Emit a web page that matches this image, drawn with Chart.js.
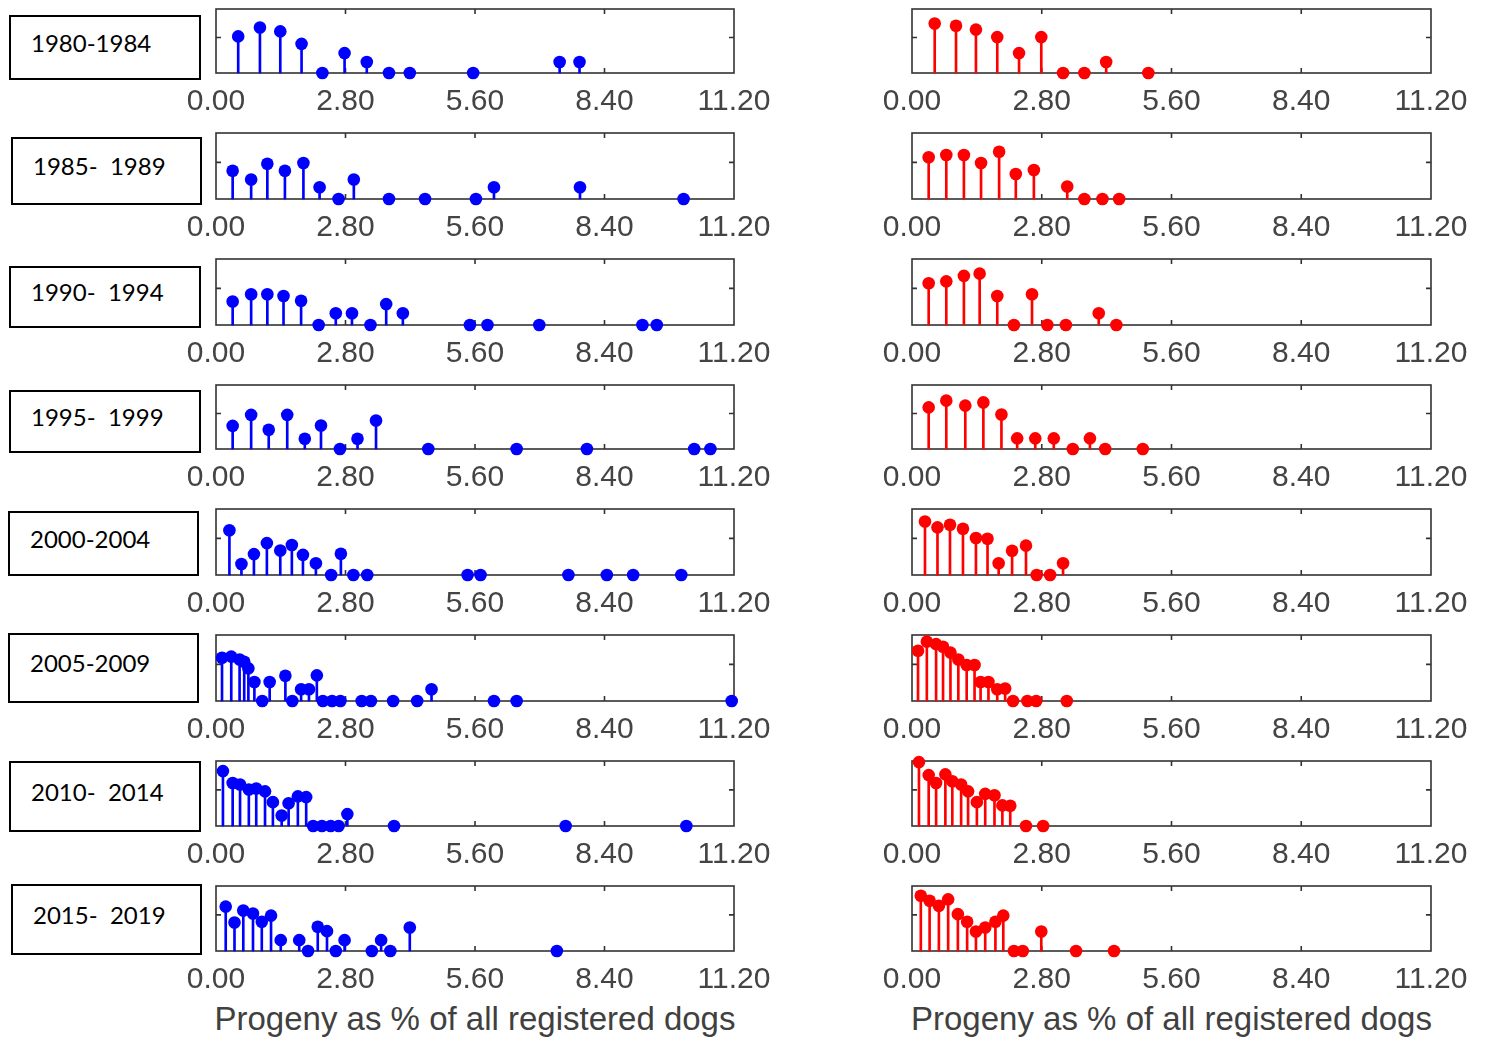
<!DOCTYPE html>
<html>
<head>
<meta charset="utf-8">
<script src="https://cdn.jsdelivr.net/npm/chart.js@4.4.0/dist/chart.umd.min.js"></script>
<style>
  body { margin: 0; background: #fff; width: 1485px; height: 1039px; position: relative; overflow: hidden; }
  .box { position: absolute; border: 2px solid #000; box-sizing: border-box; }
  .box span { position: absolute; font-family: Lato, "Open Sans", sans-serif; font-size: 24px; color: #000; white-space: pre; }
  .wrap { position: absolute; }
  .xlabel { position: absolute; width: 600px; text-align: center; font-family: "Liberation Sans", Arial, sans-serif; font-size: 33px; color: #404040; }
</style>
</head>
<body>
<script>
/* periods and axis */
const periods = ['1980-1984', '1985-  1989', '1990-  1994', '1995-  1999', '2000-2004', '2005-2009', '2010-  2014', '2015-  2019'];
const xTicks = [0, 2.8, 5.6, 8.4, 11.2];
const xTitle = 'Progeny as % of all registered dogs';

/* left (blue) panels */
const blueX80 = [0.48, 0.95, 1.39, 1.85, 2.30, 2.78, 3.26, 3.74, 4.19, 5.56, 7.43, 7.86];
const blueY80 = [1.03, 1.28, 1.17, 0.82, 0, 0.56, 0.31, 0, 0, 0, 0.31, 0.31];
const blueX85 = [0.36, 0.76, 1.11, 1.49, 1.89, 2.24, 2.65, 2.98, 3.74, 4.52, 5.62, 6.01, 7.87, 10.11];
const blueY85 = [0.77, 0.53, 0.96, 0.77, 0.98, 0.32, 0, 0.53, 0, 0, 0, 0.32, 0.32, 0];
const blueX90 = [0.36, 0.76, 1.11, 1.46, 1.84, 2.22, 2.59, 2.94, 3.34, 3.68, 4.04, 5.49, 5.87, 6.99, 9.22, 9.53];
const blueY90 = [0.64, 0.84, 0.84, 0.79, 0.66, 0, 0.32, 0.32, 0, 0.57, 0.32, 0, 0, 0, 0, 0];
const blueX95 = [0.36, 0.76, 1.14, 1.54, 1.92, 2.27, 2.68, 3.06, 3.46, 4.59, 6.50, 8.02, 10.34, 10.69];
const blueY95 = [0.65, 0.96, 0.54, 0.96, 0.29, 0.66, 0, 0.29, 0.80, 0, 0, 0, 0, 0];
const blueX00 = [0.29, 0.55, 0.82, 1.10, 1.39, 1.64, 1.88, 2.16, 2.49, 2.70, 2.97, 3.27, 5.44, 5.72, 7.62, 8.45, 9.02, 10.06];
const blueY00 = [1.22, 0.30, 0.57, 0.87, 0.67, 0.82, 0.55, 0.32, 0, 0.58, 0, 0, 0, 0, 0, 0, 0, 0];
const blueX05 = [0.13, 0.33, 0.51, 0.61, 0.70, 0.83, 1.00, 1.16, 1.50, 1.65, 1.84, 2.01, 2.18, 2.31, 2.51, 2.69, 3.15, 3.35, 3.83, 4.35, 4.66, 6.01, 6.50, 11.15];
const blueY05 = [1.18, 1.21, 1.13, 1.07, 0.89, 0.52, 0, 0.52, 0.69, 0, 0.32, 0.32, 0.70, 0, 0, 0, 0, 0, 0, 0, 0.32, 0, 0, 0];
const blueX10 = [0.15, 0.36, 0.52, 0.71, 0.87, 1.06, 1.23, 1.42, 1.57, 1.77, 1.95, 2.10, 2.29, 2.48, 2.65, 2.84, 3.85, 7.56, 10.17];
const blueY10 = [1.52, 1.19, 1.15, 1.01, 1.04, 0.96, 0.66, 0.29, 0.63, 0.82, 0.80, 0, 0, 0, 0, 0.33, 0, 0, 0];
const blueX15 = [0.21, 0.40, 0.59, 0.80, 0.99, 1.19, 1.40, 1.80, 1.99, 2.20, 2.40, 2.59, 2.78, 3.37, 3.57, 3.77, 4.19, 7.37];
const blueY15 = [1.23, 0.79, 1.12, 1.04, 0.81, 0.98, 0.30, 0.30, 0, 0.67, 0.55, 0, 0.30, 0, 0.30, 0, 0.65, 0];

/* right (red) panels */
const redX80 = [0.49, 0.95, 1.38, 1.84, 2.31, 2.79, 3.26, 3.72, 4.19, 5.10];
const redY80 = [1.39, 1.33, 1.22, 1.01, 0.56, 1.01, 0, 0, 0.31, 0];
const redX85 = [0.36, 0.74, 1.12, 1.49, 1.88, 2.24, 2.63, 3.35, 3.72, 4.11, 4.47];
const redY85 = [1.14, 1.20, 1.20, 0.98, 1.29, 0.68, 0.79, 0.34, 0, 0, 0];
const redX90 = [0.36, 0.74, 1.12, 1.46, 1.84, 2.20, 2.59, 2.92, 3.32, 4.03, 4.41];
const redY90 = [1.14, 1.19, 1.34, 1.40, 0.79, 0, 0.84, 0, 0, 0.32, 0];
const redX95 = [0.36, 0.74, 1.15, 1.54, 1.93, 2.27, 2.66, 3.06, 3.47, 3.84, 4.17, 4.98];
const redY95 = [1.17, 1.36, 1.22, 1.31, 0.97, 0.30, 0.30, 0.30, 0, 0.30, 0, 0];
const redX00 = [0.28, 0.55, 0.82, 1.10, 1.38, 1.63, 1.87, 2.16, 2.46, 2.69, 2.98, 3.26];
const redY00 = [1.46, 1.30, 1.37, 1.26, 1.01, 0.99, 0.32, 0.66, 0.80, 0, 0, 0.32];
const redX05 = [0.13, 0.32, 0.52, 0.67, 0.83, 1.00, 1.18, 1.35, 1.48, 1.65, 1.84, 2.01, 2.18, 2.49, 2.68, 3.34];
const redY05 = [1.37, 1.62, 1.55, 1.48, 1.32, 1.13, 0.98, 0.98, 0.52, 0.52, 0.32, 0.34, 0, 0, 0, 0];
const redX10 = [0.15, 0.36, 0.52, 0.72, 0.87, 1.06, 1.21, 1.40, 1.58, 1.78, 1.95, 2.12, 2.46, 2.83];
const redY10 = [1.77, 1.41, 1.19, 1.43, 1.24, 1.15, 0.96, 0.66, 0.89, 0.85, 0.57, 0.56, 0, 0];
const redX15 = [0.19, 0.38, 0.58, 0.78, 0.99, 1.19, 1.38, 1.58, 1.80, 1.97, 2.20, 2.39, 2.79, 3.54, 4.36];
const redY15 = [1.53, 1.39, 1.25, 1.43, 1.02, 0.81, 0.54, 0.65, 0.81, 0.98, 0, 0, 0.54, 0, 0];

const blueRows = [[blueX80, blueY80], [blueX85, blueY85], [blueX90, blueY90], [blueX95, blueY95],
                  [blueX00, blueY00], [blueX05, blueY05], [blueX10, blueY10], [blueX15, blueY15]];
const redRows = [[redX80, redY80], [redX85, redY85], [redX90, redY90], [redX95, redY95],
                 [redX00, redY00], [redX05, redY05], [redX10, redY10], [redX15, redY15]];

// panel placement (pixels)
const panelTop = [9, 133, 259, 385, 509, 635, 761, 886];
const panelBottom = [73, 199, 325, 449, 575, 701, 826, 951];
const colLeft = [216, 912];
const colRight = [734, 1431];
const boxes = [[9, 15, 192, 65], [11, 137, 191, 68], [9, 266, 192, 62], [9, 390, 192, 63],
               [8, 511, 191, 65], [8, 633, 191, 70], [9, 761, 192, 71], [11, 884, 191, 71]];

// box and inward tick marks, drawn under the stems
const framePlugin = {
    id: 'frame',
    beforeDatasetsDraw(chart) {
        const ctx = chart.ctx;
        const a = chart.chartArea;
        const x = chart.scales.x, y = chart.scales.y;
        ctx.save();
        ctx.strokeStyle = '#333333';
        ctx.lineWidth = 1.6;
        ctx.strokeRect(a.left, a.top, a.right - a.left, a.bottom - a.top);
        ctx.beginPath();
        xTicks.slice(1, -1).forEach(v => {
            const px = x.getPixelForValue(v);
            ctx.moveTo(px, a.bottom); ctx.lineTo(px, a.bottom - 5);
            ctx.moveTo(px, a.top); ctx.lineTo(px, a.top + 5);
        });
        const py = y.getPixelForValue(1);
        ctx.moveTo(a.left, py); ctx.lineTo(a.left + 5, py);
        ctx.moveTo(a.right, py); ctx.lineTo(a.right - 5, py);
        ctx.stroke();
        ctx.restore();
    }
};

function makePanel(xs, ys, color, row, col) {
    const padL = 50, padR = 50, padT = 12, axisH = 45;
    const w = colRight[col] - colLeft[col] + padL + padR;
    const h = panelBottom[row] - panelTop[row] + padT + axisH;

    const wrap = document.createElement('div');
    wrap.className = 'wrap';
    wrap.style.left = (colLeft[col] - padL) + 'px';
    wrap.style.top = (panelTop[row] - padT) + 'px';
    const canvas = document.createElement('canvas');
    canvas.width = w;
    canvas.height = h;
    wrap.appendChild(canvas);
    document.body.appendChild(wrap);

    const pts = xs.map((v, i) => ({ x: v, y: ys[i] }));

    new Chart(canvas, {
        type: 'scatter',
        data: {
            datasets: [
                {
                    type: 'scatter',
                    data: pts,
                    backgroundColor: color,
                    pointRadius: 6.3,
                    pointBorderWidth: 0,
                    clip: false
                },
                {
                    type: 'bar',
                    data: pts,
                    backgroundColor: color,
                    barThickness: 2,
                    borderWidth: 0,
                    clip: false
                }
            ]
        },
        options: {
            responsive: false,
            animation: false,
            events: [],
            layout: { padding: { left: padL, right: padR, top: padT, bottom: 0 } },
            plugins: { legend: { display: false }, tooltip: { enabled: false } },
            scales: {
                x: {
                    type: 'linear',
                    min: 0,
                    max: 11.2,
                    offset: false,
                    grid: { display: false, drawTicks: false },
                    border: { display: false },
                    afterBuildTicks: s => { s.ticks = xTicks.map(v => ({ value: v })); },
                    afterFit: s => { s.height = axisH; },
                    ticks: {
                        callback: v => Number(v).toFixed(2),
                        font: { family: 'Liberation Sans', size: 30 },
                        color: '#444444',
                        padding: 11,
                        maxRotation: 0,
                        autoSkip: false
                    }
                },
                y: { min: 0, max: 1.8, display: false }
            }
        },
        plugins: [framePlugin]
    });
}

periods.forEach((p, i) => {
    const b = boxes[i];
    const div = document.createElement('div');
    div.className = 'box';
    div.style.left = b[0] + 'px';
    div.style.top = b[1] + 'px';
    div.style.width = b[2] + 'px';
    div.style.height = b[3] + 'px';
    const s = document.createElement('span');
    s.textContent = p;
    s.style.left = '20px';
    s.style.top = (b[3] / 2 - 22) + 'px';
    div.appendChild(s);
    document.body.appendChild(div);

    makePanel(blueRows[i][0], blueRows[i][1], '#0000ff', i, 0);
    makePanel(redRows[i][0], redRows[i][1], '#ff0000', i, 1);
});

[0, 1].forEach(c => {
    const d = document.createElement('div');
    d.className = 'xlabel';
    d.textContent = xTitle;
    d.style.left = ((colLeft[c] + colRight[c]) / 2 - 300) + 'px';
    d.style.top = '1000px';
    document.body.appendChild(d);
});
</script>
</body>
</html>
